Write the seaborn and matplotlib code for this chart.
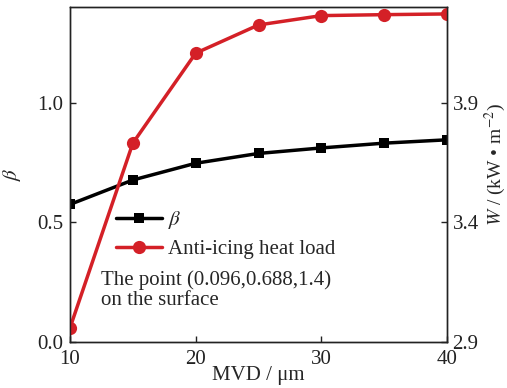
import matplotlib
matplotlib.use("Agg")
import matplotlib.pyplot as plt
import seaborn as sns
import pandas as pd

mvd = [10, 15, 20, 25, 30, 35, 40]
beta = [0.575, 0.677, 0.747, 0.788, 0.811, 0.831, 0.845]
heat_load = [2.959, 3.731, 4.107, 4.225, 4.264, 4.268, 4.271]

x_ticks = [10, 20, 30, 40]
beta_ticks = [0.0, 0.5, 1.0]
w_ticks = [2.9, 3.4, 3.9]

sns.set_style("ticks")
plt.rcParams['font.family'] = ['Liberation Serif', 'DejaVu Serif']
plt.rcParams['mathtext.fontset'] = 'stix'
plt.rcParams['xtick.direction'] = 'in'
plt.rcParams['ytick.direction'] = 'in'

df = pd.DataFrame({"MVD": mvd, "beta": beta, "W": heat_load})

fig = plt.figure(figsize=(5.07, 3.88), dpi=100)
ax = fig.add_axes([70/507, 1-342/388, 377/507, 335/388])
ax2 = ax.twinx()

red = "#d42027"
sns.lineplot(data=df, x="MVD", y="beta", ax=ax, color="black", marker="s",
             markersize=7, linewidth=2.5, markeredgewidth=0, label=r"$\beta$", legend=False)
sns.lineplot(data=df, x="MVD", y="W", ax=ax2, color=red, marker="o",
             markersize=9.5, linewidth=2.5, markeredgewidth=0, label="Anti-icing heat load", legend=False)

ax.set_xlim(10, 40)
ax.set_ylim(0, 1.4)
ax2.set_ylim(2.9, 4.3)
ax.set_xticks(x_ticks)
ax.set_yticks(beta_ticks)
ax.set_yticklabels([f"{v:.1f}" for v in beta_ticks])
ax2.set_yticks(w_ticks)
ax2.set_yticklabels([f"{v:.1f}" for v in w_ticks])

fs = 15
ax.tick_params(axis="x", labelsize=fs, length=4, width=1, colors="#222222", pad=6)
ax.tick_params(axis="y", labelsize=fs, length=4, width=1, colors="#222222", pad=5)
ax2.tick_params(labelsize=fs, length=4, width=1, colors="#222222", pad=4)
ax.set_xlabel("MVD / μm", fontsize=fs, labelpad=-2.5)
ax.set_ylabel(r"$\beta$", fontsize=fs)
ax.yaxis.set_label_coords(-0.125, 0.5)
ax2.set_ylabel(r"$W$ / (kW • m$^{-2}$)", fontsize=14)
ax2.yaxis.set_label_coords(1.095, 0.53)

for a in (ax, ax2):
    for s in a.spines.values():
        s.set_linewidth(1.0)
        s.set_color("#222222")

h1, l1 = ax.get_legend_handles_labels()
h2, l2 = ax2.get_legend_handles_labels()
leg = ax.legend(h1 + h2, l1 + l2, loc="upper left",
                bbox_to_anchor=(116/507, 1-209/388), bbox_transform=fig.transFigure,
                frameon=False, fontsize=fs, handlelength=2.2, handletextpad=0.3,
                labelspacing=0.4, borderaxespad=0, borderpad=0)

fig.text(101/507, 1-290/388, "The point (0.096,0.688,1.4)\non the surface",
         fontsize=fs, va="center", ha="left", linespacing=1.03)

fig.savefig("out.png", dpi=100)
